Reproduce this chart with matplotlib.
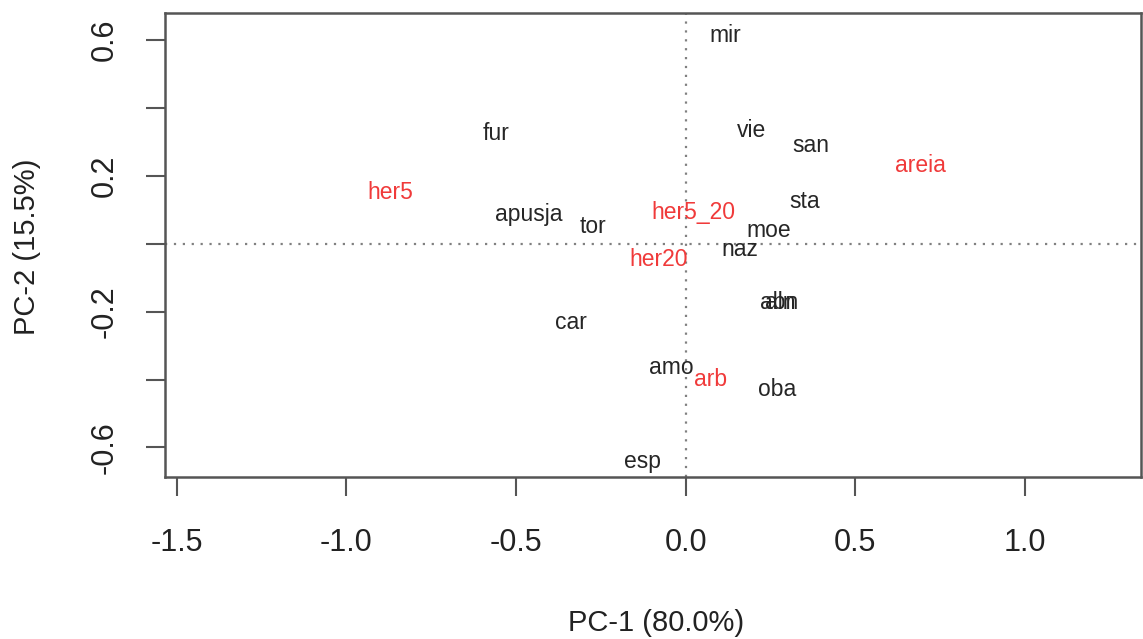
import matplotlib
matplotlib.use("Agg")
import matplotlib.pyplot as plt
import numpy as np

plt.rcParams['font.family'] = ['Liberation Sans', 'DejaVu Sans']

# PCA scores (PC-1, PC-2)
sites = ['mir', 'fur', 'vie', 'san', 'sta', 'apusja', 'tor', 'moe', 'naz',
         'abn', 'aln', 'car', 'amo', 'oba', 'esp']
site_pc1 = [0.117, -0.559, 0.195, 0.369, 0.351, -0.462, -0.274, 0.245, 0.160,
            0.277, 0.278, -0.338, -0.041, 0.271, -0.126]
site_pc2 = [0.615, 0.326, 0.335, 0.291, 0.126, 0.085, 0.052, 0.038, -0.018,
            -0.172, -0.173, -0.231, -0.363, -0.428, -0.640]

groups = ['areia', 'her5', 'her5_20', 'her20', 'arb']
group_pc1 = [0.693, -0.872, 0.024, -0.079, 0.074]
group_pc2 = [0.232, 0.152, 0.091, -0.045, -0.399]

xticks = [-1.5, -1.0, -0.5, 0.0, 0.5, 1.0]
yticks = [-0.6, -0.4, -0.2, 0.0, 0.2, 0.4, 0.6]
ytick_labels = ['-0.6', '', '-0.2', '', '0.2', '', '0.6']

fig = plt.figure(figsize=(11.43, 6.39), dpi=100)
ax = fig.add_axes([0.1444, 0.2535, 0.8536, 0.7262])

ax.axhline(0, color='#808080', lw=1.6, ls=(0, (1, 3)))
ax.axvline(0, color='#808080', lw=1.6, ls=(0, (1, 3)))

for name, x, y in zip(sites, site_pc1, site_pc2):
    ax.text(x, y, name, color='#262626', fontsize=16.5, ha='center', va='center')
for name, x, y in zip(groups, group_pc1, group_pc2):
    ax.text(x, y, name, color='#f03a3a', fontsize=16.5, ha='center', va='center')

ax.set_xlim(-1.535, 1.342)
ax.set_ylim(-0.687, 0.680)
ax.set_xticks(xticks)
ax.set_xticklabels(['%.1f' % v for v in xticks])
ax.set_yticks(yticks)
ax.set_yticklabels(ytick_labels, rotation=90, va='center')

for s in ax.spines.values():
    s.set_color('#555555')
    s.set_linewidth(1.8)
ax.tick_params(axis='both', direction='out', length=13.5, width=1.5,
               color='#555555', labelsize=22, labelcolor='#222222')
ax.tick_params(axis='x', pad=23)
ax.tick_params(axis='y', pad=19)

fig.text(656 / 1143, 1 - 623 / 639, 'PC-1 (80.0%)', fontsize=21,
         color='#222222', ha='center', va='center')
fig.text(27 / 1143, 1 - 247 / 639, 'PC-2 (15.5%)', fontsize=21,
         color='#222222', ha='center', va='center', rotation=90)

fig.savefig('out.png', dpi=100)
